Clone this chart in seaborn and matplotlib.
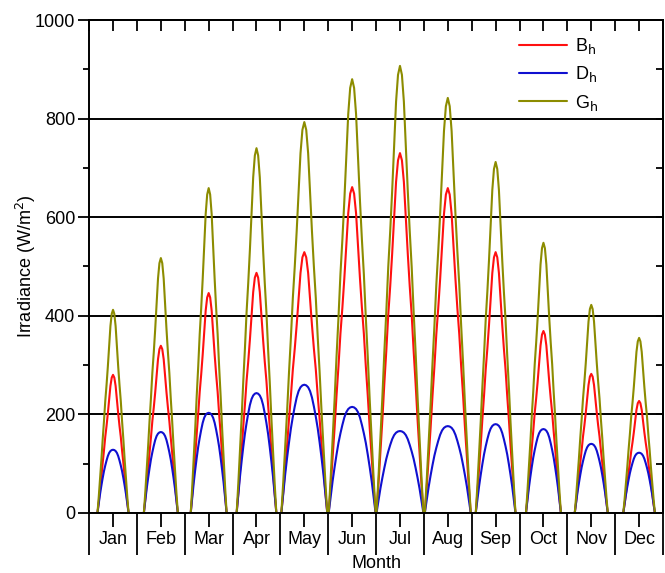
import numpy as np
import pandas as pd
import seaborn as sns
import matplotlib.pyplot as plt

months = ['Jan', 'Feb', 'Mar', 'Apr', 'May', 'Jun',
          'Jul', 'Aug', 'Sep', 'Oct', 'Nov', 'Dec']
# peak irradiance of the typical day per month (W/m2)
gh_peak = [412, 517, 659, 740, 793, 880, 907, 842, 712, 548, 422, 355]
bh_peak = [280, 339, 446, 487, 529, 661, 730, 659, 529, 369, 282, 227]
dh_peak = [128, 164, 203, 243, 260, 215, 166, 176, 180, 170, 140, 122]
# share of the month slot covered by daylight
day_frac = [0.65, 0.71, 0.75, 0.83, 0.96, 0.98, 0.98, 0.96, 0.83, 0.73, 0.69, 0.66]
# normalised daily profiles (sunrise -> sunset)
beam_shape = [0, 0.08, 0.17, 0.26, 0.36, 0.45, 0.55, 0.63, 0.72, 0.82, 0.92, 0.98, 1.0,
              0.98, 0.92, 0.82, 0.72, 0.63, 0.55, 0.45, 0.36, 0.26, 0.17, 0.08, 0]
diff_shape = [0, 0.15, 0.30, 0.43, 0.55, 0.66, 0.75, 0.83, 0.90, 0.95, 0.98, 0.995, 1.0,
              0.995, 0.98, 0.95, 0.90, 0.83, 0.75, 0.66, 0.55, 0.43, 0.30, 0.15, 0]

series = [('Bh', bh_peak, beam_shape), ('Dh', dh_peak, diff_shape), ('Gh', gh_peak, beam_shape)]

rows = []
for name, peaks, shape in series:
    n = len(shape) - 1
    for i, m in enumerate(months):
        for k, s in enumerate(shape):
            pos = i + 0.5 + day_frac[i] * (k / n - 0.5)
            rows.append({'x': pos, 'value': peaks[i] * s, 'series': name, 'month': m})
df = pd.DataFrame(rows)

sns.set_theme(style='ticks')
plt.rcParams['font.family'] = ['Liberation Sans', 'DejaVu Sans']
plt.rcParams['axes.linewidth'] = 1.4
plt.rcParams['text.color'] = 'black'
plt.rcParams['axes.labelcolor'] = 'black'
plt.rcParams['xtick.color'] = 'black'
plt.rcParams['ytick.color'] = 'black'
plt.rcParams['axes.edgecolor'] = 'black'

fig, ax = plt.subplots(figsize=(6.65, 5.73), dpi=100)
fig.subplots_adjust(left=0.134, right=0.997, top=0.965, bottom=0.105)

palette = {'Bh': '#ff1010', 'Dh': '#1010d0', 'Gh': '#8c8c00'}
sns.lineplot(data=df, x='x', y='value', hue='series', units='month',
             estimator=None, sort=False, palette=palette, lw=1.5, ax=ax)

ax.set_xlim(0, 12)
ax.set_ylim(0, 1000)

# horizontal grid
ax.set_yticks(np.arange(0, 1001, 200))
ax.set_yticks(np.arange(100, 1000, 200), minor=True)
ax.yaxis.grid(True, which='major', color='black', lw=1.4)
ax.tick_params(axis='y', which='major', direction='out', length=8, width=1.3, labelsize=13, pad=2)
ax.tick_params(axis='y', which='minor', direction='out', length=4, width=1.3)

# month axis
ax.set_xticks(np.arange(0, 13))
ax.set_xticklabels([])
ax.set_xticks(np.arange(0.5, 12, 1), labels=months, minor=True)
ax.tick_params(axis='x', which='major', direction='out', length=30, width=1.3)
ax.tick_params(axis='x', which='minor', direction='out', length=10, width=1.3,
               labelsize=13, pad=3)

top = ax.secondary_xaxis('top')
top.set_xticks(np.arange(0, 12.01, 0.5))
top.set_xticklabels([])
top.tick_params(direction='in', length=8, width=1.3)

right = ax.secondary_yaxis('right')
right.set_yticks(np.arange(0, 1001, 100))
right.set_yticklabels([])
right.tick_params(direction='in', length=5, width=1.3)

ax.set_xlabel('Month', fontsize=13, labelpad=-3)
ax.set_ylabel('Irradiance (W/m$^2$)', fontsize=13, labelpad=-2)

handles, _ = ax.get_legend_handles_labels()
ax.legend(handles, [r'B$_\mathrm{h}$', r'D$_\mathrm{h}$', r'G$_\mathrm{h}$'], loc='upper left',
          bbox_to_anchor=(0.72, 1.0), frameon=False, fontsize=13,
          handlelength=2.7, labelspacing=0.45, handletextpad=0.4)

plt.savefig('out.png', dpi=100)
